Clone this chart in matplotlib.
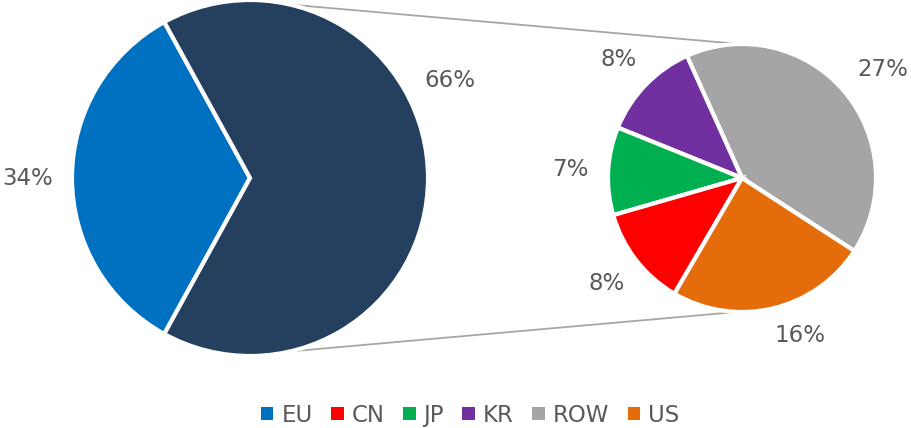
import numpy as np
import matplotlib
matplotlib.use("Agg")
import matplotlib.pyplot as plt
from matplotlib.patches import Patch

# main pie: EU vs the rest (the rest is split in the second pie)
main_labels = ["EU", "Other"]
main_values = [34, 66]
main_colors = ["#0070C0", "#253F5F"]

# second pie, counterclockwise from the lower right
sub_labels = ["ROW", "KR", "JP", "CN", "US"]
sub_values = [27, 8, 7, 8, 16]
sub_colors = ["#A5A5A5", "#7030A0", "#00B050", "#FF0000", "#E46C0A"]

legend_order = ["EU", "CN", "JP", "KR", "ROW", "US"]

text_col = "#595959"
fs = 16.5

fig = plt.figure(figsize=(9.11, 4.28), dpi=100)
ax = fig.add_axes([0, 0, 1, 1])

c1, r1 = (250, 250), 178
c2, r2 = (742, 250), 134

# label placement tweaks (angle shift in degrees, radial distance)
tweak = {"Other": (26, 1.25), "ROW": (-3, 1.33), "US": (7, 1.25)}

def label_wedges(wedges, names, vals, center, radius, dist):
    for w, n, v in zip(wedges, names, vals):
        shift, d = tweak.get(n, (0, dist))
        mid = np.deg2rad((w.theta1 + w.theta2) / 2 + shift)
        x = center[0] + d * radius * np.cos(mid)
        y = center[1] + d * radius * np.sin(mid)
        ax.text(x, y, f"{v}%", ha="center", va="center", fontsize=fs, color=text_col)

start1 = 180 - main_values[0] / sum(main_values) * 360 / 2
w1, _ = ax.pie(main_values, colors=main_colors, startangle=start1, center=c1, radius=r1,
               wedgeprops=dict(edgecolor="white", linewidth=3), frame=True)
label_wedges(w1, main_labels, main_values, c1, r1, 1.25)

w2, _ = ax.pie(sub_values, colors=sub_colors, startangle=-33, center=c2, radius=r2,
               wedgeprops=dict(edgecolor="white", linewidth=3), frame=True)
label_wedges(w2, sub_labels, sub_values, c2, r2, 1.28)

ax.set_xlim(0, 911)
ax.set_ylim(0, 428)
ax.set_aspect("equal")
ax.axis("off")

# connector lines between the two pies
for a1, a2 in [(77, 91), (-77, -92)]:
    x1 = c1[0] + r1 * np.cos(np.deg2rad(a1))
    y1 = c1[1] + r1 * np.sin(np.deg2rad(a1))
    x2 = c2[0] + r2 * np.cos(np.deg2rad(a2))
    y2 = c2[1] + r2 * np.sin(np.deg2rad(a2))
    ax.plot([x1, x2], [y1, y2], color="#A6A6A6", linewidth=1.3, zorder=0)

color_map = dict(zip(main_labels + sub_labels, main_colors + sub_colors))
handles = [Patch(facecolor=color_map[k], edgecolor="none", label=k) for k in legend_order]
fig.legend(handles=handles, loc="lower center", bbox_to_anchor=(0.516, -0.045), ncol=6,
           frameon=False, fontsize=fs, labelcolor=text_col, handlelength=0.55,
           handleheight=0.55, handletextpad=0.35, columnspacing=0.8)

fig.savefig("out.png", dpi=100)
